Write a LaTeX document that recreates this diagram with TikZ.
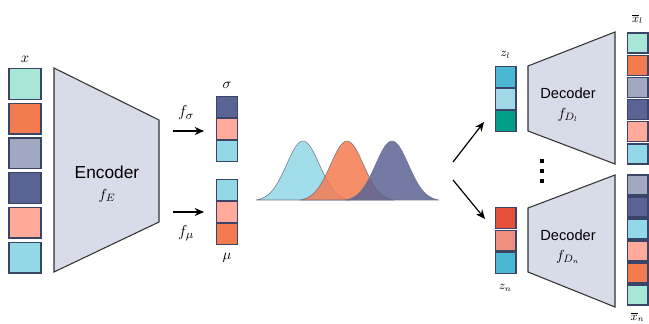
\documentclass[tikz,border=0pt]{standalone}
\usepackage{xcolor}
\usepackage{fontspec}
\setsansfont{Liberation Sans}
\usetikzlibrary{arrows.meta}

\definecolor{cMint}{HTML}{A8E6D7}
\definecolor{cOrange}{HTML}{F47A50}
\definecolor{cGrey}{HTML}{A0A8C2}
\definecolor{cNavy}{HTML}{5A6494}
\definecolor{cSalmon}{HTML}{FFAA9A}
\definecolor{cLight}{HTML}{92D8E6}
\definecolor{cTeal}{HTML}{4AB8D2}
\definecolor{cPale}{HTML}{A0D8E8}
\definecolor{cGreen}{HTML}{009E88}
\definecolor{cRed}{HTML}{E5503A}
\definecolor{cRose}{HTML}{EE9080}
\definecolor{cEdge}{HTML}{3A4466}
\definecolor{cBody}{HTML}{D8DCE8}

\begin{document}
\begin{tikzpicture}[
  x=0.75pt, y=-0.75pt,
  >=Stealth,
  bigcell/.style={draw=cEdge, line width=1pt, minimum width=24pt, minimum height=23pt, inner sep=0pt},
  cell/.style={draw=cEdge, line width=1pt, minimum width=15.5pt, minimum height=15.5pt, inner sep=0pt},
  outcell/.style={draw=cEdge, line width=1pt, minimum width=15.5pt, minimum height=15pt, inner sep=0pt},
  netbox/.style={fill=cBody, draw=black!80, line width=0.8pt},
  lbl/.style={inner sep=0pt, font=\fontsize{11}{13}\selectfont},
  flbl/.style={inner sep=0pt, font=\fontsize{13}{15}\selectfont},
  zlbl/.style={inner sep=0pt, font=\fontsize{9}{11}\selectfont},
  arr/.style={->, line width=0.9pt, >={Stealth[length=7pt, width=6pt]}},
  bell/.style={draw=black!30!cGrey, line width=0.4pt, fill opacity=0.85}
]
\useasboundingbox (0,0) rectangle (649,324);

% input x
\foreach \c [count=\i] in {cMint,cOrange,cGrey,cNavy,cSalmon,cLight}
  \node[bigcell, fill=\c] (x\i) at (25,{84+34.7*(\i-1)}) {};
\node[lbl] (xlab) at (25,59) {$x$};

% encoder
\draw[netbox] (54,68) -- (159,120) -- (159,222) -- (54,272) -- cycle;
\node[inner sep=0pt, font=\sffamily\fontsize{13}{15}\selectfont] (enc) at (107,172) {Encoder};
\node[lbl] (fE) at (107,196) {$f_E$};

% sigma and mu
\foreach \c [count=\i] in {cNavy,cSalmon,cLight}
  \node[cell, fill=\c] (s\i) at (227,{107+22*(\i-1)}) {};
\foreach \c [count=\i] in {cLight,cSalmon,cOrange}
  \node[cell, fill=\c] (m\i) at (227,{190+22*(\i-1)}) {};
\node[lbl] (slab) at (227,85) {$\sigma$};
\node[lbl] (mlab) at (227,258) {$\mu$};

\coordinate (sA) at (173,131);
\coordinate (sB) at (204,131);
\coordinate (mA) at (173,212);
\coordinate (mB) at (204,212);
\draw[arr] (sA) -- (sB);
\draw[arr] (mA) -- (mB);
\node[flbl] (fs) at (186,113) {$f_\sigma$};
\node[flbl] (fm) at (186,233) {$f_\mu$};

% latent distributions
\foreach \m/\c in {303/cLight,347/cOrange,392/cNavy}
  \fill[bell, fill=\c] plot[domain=\m-47:\m+47, samples=70, smooth]
    (\x,{201-60*exp(-((\x-\m)^2)/540)}) -- cycle;

% split arrows
\coordinate (upA) at (453,162);
\coordinate (upB) at (484,122);
\coordinate (dnA) at (453,180);
\coordinate (dnB) at (485,219);
\draw[arr] (upA) -- (upB);
\draw[arr] (dnA) -- (dnB);

% latent samples
\foreach \c [count=\i] in {cTeal,cPale,cGreen}
  \node[cell, fill=\c] (za\i) at (505.5,{77+22*(\i-1)}) {};
\foreach \c [count=\i] in {cRed,cRose,cTeal}
  \node[cell, fill=\c] (zb\i) at (505.5,{218+22.5*(\i-1)}) {};
\node[zlbl] (zalab) at (505.5,55) {$z_l$};
\node[zlbl] (zblab) at (505.5,288) {$z_n$};

% decoders
\draw[netbox] (528,66) -- (615,32) -- (615,164) -- (528,131) -- cycle;
\draw[netbox] (528,208) -- (615,175) -- (615,307) -- (528,272) -- cycle;
\node[inner sep=0pt, font=\sffamily\fontsize{11}{13}\selectfont] (deca) at (568,93) {Decoder};
\node[lbl] (fDa) at (568,115) {$f_{D_l}$};
\node[inner sep=0pt, font=\sffamily\fontsize{11}{13}\selectfont] (decb) at (568,235) {Decoder};
\node[lbl] (fDb) at (568,257) {$f_{D_n}$};

% dots
\foreach \y [count=\i] in {161,171,181}
  \node[fill=black, inner sep=0pt, minimum size=2.6pt] (dot\i) at (542,\y) {};

% outputs
\foreach \c [count=\i] in {cMint,cOrange,cGrey,cNavy,cSalmon,cLight}
  \node[outcell, fill=\c] (ya\i) at (637.5,{43+22.2*(\i-1)}) {};
\foreach \c [count=\i] in {cGrey,cNavy,cLight,cSalmon,cOrange,cMint}
  \node[outcell, fill=\c] (yb\i) at (637.5,{185+22*(\i-1)}) {};
\node[zlbl] (yalab) at (637.5,19) {$\overline{x}_l$};
\node[zlbl] (yblab) at (637.5,317) {$\overline{x}_n$};
\end{tikzpicture}
\end{document}
